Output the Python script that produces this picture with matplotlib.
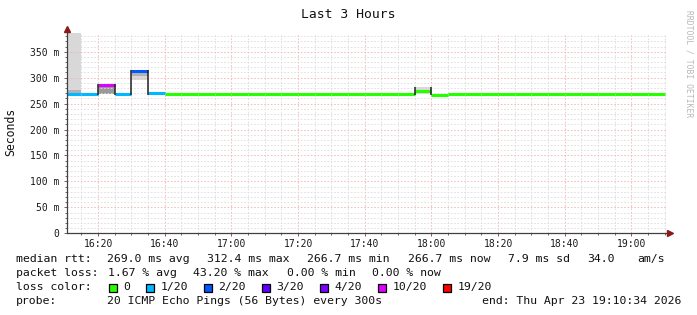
import numpy as np
import matplotlib.pyplot as plt
from matplotlib.patches import Rectangle
from matplotlib.ticker import MultipleLocator, FuncFormatter

plt.rcParams['font.family'] = ['DejaVu Sans Mono', 'DejaVu Sans']

# 5 minute bins, start minute counted from 16:00
bins = np.arange(10, 190, 5)
median_ms = [268.2, 268.0, 286.0, 268.1, 312.4, 270.0,
             268.0, 268.1, 267.9, 268.0, 268.2, 268.0, 267.9, 268.1,
             268.0, 268.0, 267.9, 268.1, 268.0, 268.0, 268.1,
             273.6, 267.5,
             267.9, 268.0, 268.0, 267.9, 268.0, 268.1, 268.0, 267.9,
             268.0, 268.0, 267.9, 268.0, 267.6]
loss = [1, 1, 10, 1, 2, 1,
        0, 0, 0, 0, 0, 0, 0, 0,
        0, 0, 0, 0, 0, 0, 0,
        0, 0,
        0, 0, 0, 0, 0, 0, 0, 0,
        0, 0, 0, 0, 0]

# smoke (ping spread) per bin
smoke_bin = [10, 10, 20, 30, 30, 115]
smoke_lo = [268, 270, 268, 296, 303, 268]
smoke_hi = [400, 276, 284, 303, 310, 282]
smoke_level = [1, 2, 3, 1, 2, 1]
box_bin = [20, 30, 115]
box_lo = [267, 267, 267]
box_hi = [288, 314, 282]

loss_steps = [0, 1, 2, 3, 4, 10, 19]
loss_colors = ['#26ff00', '#00b8ff', '#0059ff', '#5e00ff', '#7e00ff', '#dd00ff', '#ff0000']
loss_names = ['0', '1/20', '2/20', '3/20', '4/20', '10/20', '19/20']

W, H = 697, 315
fig = plt.figure(figsize=(W / 100, H / 100), dpi=100)
fig.patch.set_facecolor('white')
ax = fig.add_axes([66.7 / W, (H - 233.3) / H, 600 / W, 200 / H])

gray = {1: '#d8d8d8', 2: '#b2b2b2', 3: '#9a9a9a'}
for b, lo, hi, lv in zip(smoke_bin, smoke_lo, smoke_hi, smoke_level):
    ax.bar(b, hi - lo, bottom=lo, width=5, align='edge', color=gray[lv], linewidth=0, zorder=1)

cmap = dict(zip(loss_steps, loss_colors))
ax.hlines(median_ms, bins, bins + 5, colors=[cmap[l] for l in loss], lw=2.2, zorder=4)
for b, lo, hi in zip(box_bin, box_lo, box_hi):
    ax.vlines([b, b + 5], lo, hi, color='#202020', lw=1.1, zorder=5)

ax.set_xlim(10 + 34 / 60, 190 + 34 / 60)
ax.set_ylim(0, 385.5)
ax.xaxis.set_major_locator(MultipleLocator(20))
ax.xaxis.set_minor_locator(MultipleLocator(5))
ax.yaxis.set_major_locator(MultipleLocator(50))
ax.yaxis.set_minor_locator(MultipleLocator(10))
ax.xaxis.set_major_formatter(FuncFormatter(lambda v, p: f"{16 + int(v) // 60}:{int(v) % 60:02d}"))
ax.yaxis.set_major_formatter(FuncFormatter(lambda v, p: "0" if v == 0 else f"{v:.0f} m"))

ax.set_axisbelow(False)
ax.grid(which='minor', color='#dcdcdc', lw=0.6, ls=(0, (2, 2)))
ax.grid(which='major', color='#f2b4b4', lw=0.6, ls=(0, (2, 2)))
for s in ax.spines.values():
    s.set_visible(False)
ax.tick_params(which='both', direction='out', color='#505050', width=0.6,
               labelsize=7, labelcolor='#1a1a1a')
ax.tick_params(which='major', length=2.5, pad=3)
ax.tick_params(which='minor', length=1.2)
ax.tick_params(axis='x', which='major', pad=1.5)

ax.plot([0, 0], [0, 1.025], transform=ax.transAxes, color='#404040', lw=0.9, clip_on=False, zorder=6)
ax.plot([0, 1.006], [0, 0], transform=ax.transAxes, color='#404040', lw=0.9, clip_on=False, zorder=6)
ax.plot([0], [1.022], transform=ax.transAxes, marker='^', ms=4.5, color='#8b1a1a', clip_on=False, zorder=7)
ax.plot([1.006], [0], transform=ax.transAxes, marker='>', ms=4.5, color='#8b1a1a', clip_on=False, zorder=7)


def ftext(x, y, s, **kw):
    fig.text(x / W, 1 - y / H, s, va='center', **kw)


ftext(348, 14, "Last 3 Hours", ha='center', fontsize=9.4, color='#111111')
ftext(11, 132, "Seconds", ha='center', rotation=90, fontsize=8.3, color='#111111')
ftext(689, 64, "RRDTOOL / TOBI OETIKER", ha='center', rotation=270, fontsize=5.8, color='#b8b8b8')

fs = 8.25
rows = [
    (259.3, [(16, "median rtt:"), (107.3, "269.0 ms avg"), (207.4, "312.4 ms max"),
             (307.3, "266.7 ms min"), (407.6, "266.7 ms now"), (507.8, "7.9 ms sd"),
             (586.8, "34.0"), (637.3, "am/s")]),
    (273.3, [(16, "packet loss:"), (107.5, "1.67 % avg"), (192.7, "43.20 % max"),
             (286.6, "0.00 % min"), (372.5, "0.00 % now")]),
    (287.3, [(16, "loss color:")]),
    (301.5, [(16, "probe:"), (107.3, "20 ICMP Echo Pings (56 Bytes) every 300s")]),
]
for y, items in rows:
    for x, s in items:
        ftext(x, y, s, ha='left', fontsize=fs, color='#111111')
ftext(681, 301.5, "end: Thu Apr 23 19:10:34 2026", ha='right', fontsize=fs, color='#111111')

box_x = [108.5, 146, 203.8, 261.7, 320, 377.8, 443.3]
for bx, c, name in zip(box_x, loss_colors, loss_names):
    fig.add_artist(Rectangle((bx / W, 1 - 291.5 / H), 8 / W, 8 / H, transform=fig.transFigure,
                             facecolor=c, edgecolor='black', lw=0.9))
    ftext(bx + 14.4, 287.3, name, ha='left', fontsize=fs, color='#111111')

fig.savefig('out.png', dpi=100)
